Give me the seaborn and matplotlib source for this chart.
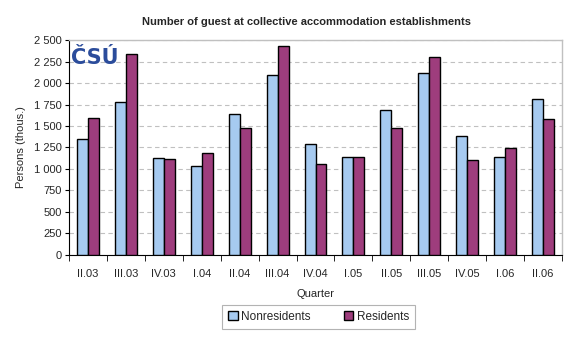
import numpy as np
import pandas as pd
import seaborn as sns
import matplotlib.pyplot as plt

quarters = ['II.03', 'III.03', 'IV.03', 'I.04', 'II.04', 'III.04', 'IV.04',
            'I.05', 'II.05', 'III.05', 'IV.05', 'I.06', 'II.06']
nonresidents = [1345, 1776, 1124, 1035, 1636, 2089, 1287, 1136, 1682, 2113, 1380, 1136, 1810]
residents = [1589, 2334, 1113, 1182, 1473, 2427, 1055, 1136, 1473, 2299, 1101, 1240, 1578]
yticks = list(range(0, 2501, 250))

df = pd.DataFrame({'Quarter': quarters * 2,
                   'value': nonresidents + residents,
                   'series': ['Nonresidents'] * 13 + ['Residents'] * 13})

sns.set_style('white')
plt.rcParams['font.family'] = ['Liberation Sans', 'DejaVu Sans']

fig = plt.figure(figsize=(5.78, 3.39), dpi=100)
ax = fig.add_axes([0.1194, 0.2478, 0.8529, 0.6342])

sns.barplot(data=df, x='Quarter', y='value', hue='series',
            palette=['#A6CAF0', '#9E3D7D'], width=0.58, gap=0,
            edgecolor='black', linewidth=1, saturation=1, ax=ax, zorder=3)

ax.set_ylim(0, 2500)
ax.set_xlim(-0.5, 12.5)
ax.set_yticks(yticks)
ax.set_yticklabels([f'{v:,}'.replace(',', ' ') for v in yticks], fontsize=8)
ax.yaxis.grid(True, linestyle=(0, (4, 3)), color='#c0c0c0', linewidth=0.8, zorder=0)
ax.tick_params(axis='y', length=3, direction='out', color='black', pad=2, left=True)
ax.set_xticks(range(13))
ax.set_xticklabels(quarters, fontsize=8)
ax.tick_params(axis='x', which='major', length=0, pad=10)
ax.set_xticks(np.arange(-0.5, 13), minor=True)
ax.tick_params(axis='x', which='minor', length=4, direction='out', color='black', bottom=True)

for s in ['top', 'right']:
    ax.spines[s].set_color('#c0c0c0')
    ax.spines[s].set_linewidth(1)
for s in ['left', 'bottom']:
    ax.spines[s].set_color('black')
    ax.spines[s].set_linewidth(0.8)

ax.set_xlabel('Quarter', fontsize=8, labelpad=7)
ax.set_ylabel('Persons (thous.)', fontsize=8, labelpad=6)

fig.text(0.53, 0.935, 'Number of guest at collective accommodation establishments',
         ha='center', va='center', fontsize=8, fontweight='bold')

# logo
ax.text(0.004, 0.965, 'ČSÚ', transform=ax.transAxes, ha='left', va='top',
        fontsize=15, fontweight='heavy', color='#2B4C9B',
        family='DejaVu Sans', zorder=5)

leg = ax.legend(loc='center', bbox_to_anchor=(0.506, -0.288),
                ncol=2, frameon=True, fancybox=False, fontsize=8.5,
                handlelength=0.8, handleheight=0.8, handletextpad=0.3,
                columnspacing=2.8, borderpad=0.5, title=None)
leg.get_frame().set_edgecolor('#a0a0a0')
leg.get_frame().set_linewidth(0.8)
for h in leg.legend_handles:
    h.set_edgecolor('black')
    h.set_linewidth(1)

fig.savefig('out.png', dpi=100)
